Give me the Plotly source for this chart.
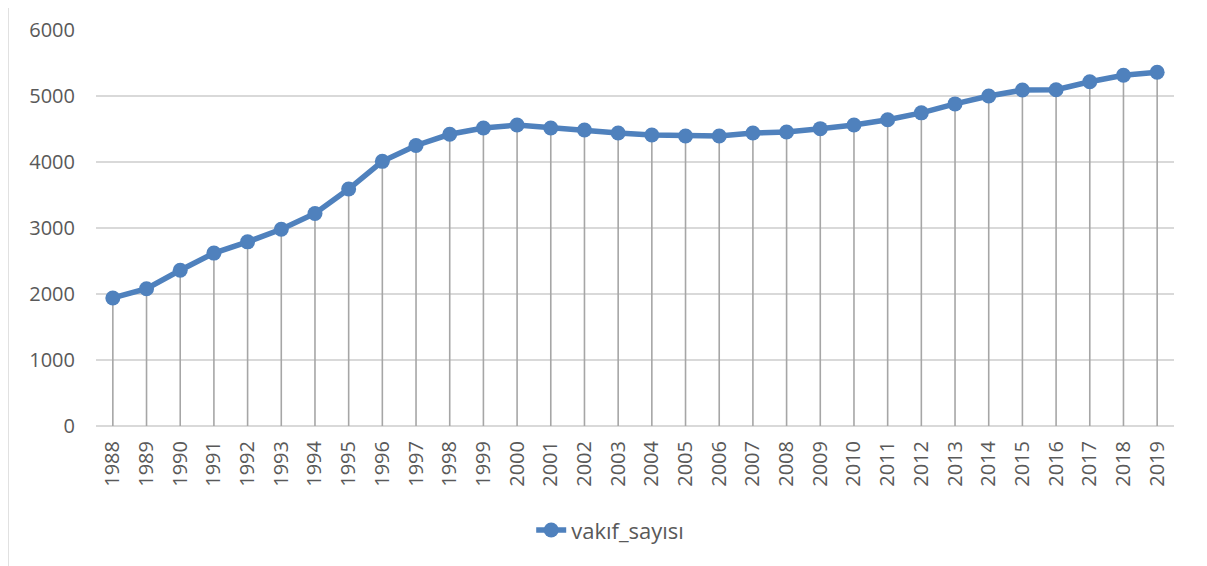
import plotly.graph_objects as go

# Data
years = [str(y) for y in range(1988, 2020)]
vakif_sayisi = [
    1940, 2080, 2360, 2620, 2790, 2980, 3220, 3590, 4010, 4250,
    4420, 4515, 4560, 4515, 4485, 4440, 4410, 4395, 4395, 4440,
    4455, 4505, 4560, 4640, 4745, 4880, 5000, 5090, 5095, 5215,
    5315, 5360,
]
y_ticks = [0, 1000, 2000, 3000, 4000, 5000, 6000]

LINE_BLUE = "#4f81bd"
DROP_GRAY = "#a6a6a6"
GRID_GRAY = "#d9d9d9"
TEXT_GRAY = "#595959"

fig = go.Figure()

fig.add_trace(
    go.Scatter(
        x=years,
        y=vakif_sayisi,
        mode="lines+markers",
        name="vakıf_sayısı",
        line=dict(color=LINE_BLUE, width=5.5),
        marker=dict(color=LINE_BLUE, size=15),
        # drop lines down to the baseline
        error_y=dict(
            type="data",
            symmetric=False,
            array=[0] * len(vakif_sayisi),
            arrayminus=vakif_sayisi,
            color=DROP_GRAY,
            thickness=1.6,
            width=0,
        ),
    )
)

# the page body adds an 8px offset, so margins are shifted to compensate
fig.update_layout(
    width=1207,
    height=566,
    margin=dict(l=88, r=41, t=22, b=148, autoexpand=False),
    plot_bgcolor="white",
    paper_bgcolor="white",
    font=dict(family="Open Sans", size=20, color=TEXT_GRAY),
    showlegend=True,
    legend=dict(
        orientation="h",
        x=0.477,
        xanchor="center",
        y=-0.263,
        yanchor="middle",
        font=dict(size=22, color=TEXT_GRAY),
    ),
    # outer chart border
    shapes=[
        dict(
            type="rect",
            xref="paper",
            yref="paper",
            x0=-0.0816,
            x1=1.0269,
            y0=-0.40,
            y1=1.0732,
            line=dict(color=GRID_GRAY, width=1.5),
            layer="below",
        )
    ],
)

fig.update_xaxes(
    type="category",
    range=[-0.5, len(years) - 0.5],
    tickangle=-90,
    showgrid=False,
    ticks="",
    showline=False,
    ticklabelstandoff=10,
    tickfont=dict(size=20, color=TEXT_GRAY),
)
fig.update_yaxes(
    range=[0, 6000],
    tickvals=y_ticks,
    showgrid=True,
    gridcolor=GRID_GRAY,
    gridwidth=1.5,
    zeroline=True,
    zerolinecolor=GRID_GRAY,
    zerolinewidth=1.5,
    ticks="",
    ticklabelstandoff=20,
    tickfont=dict(size=20, color=TEXT_GRAY),
)

fig.write_html("out.html")
